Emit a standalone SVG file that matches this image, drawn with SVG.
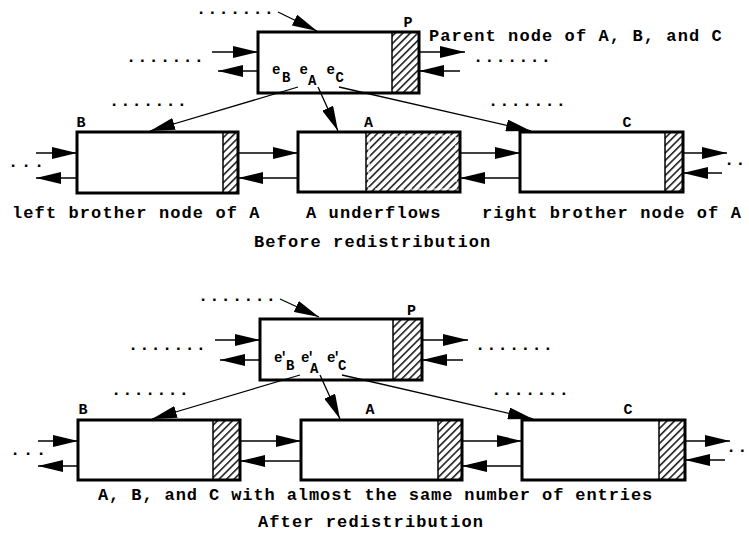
<svg xmlns="http://www.w3.org/2000/svg" width="749" height="533" viewBox="0 0 749 533">
<defs>
<style>
.box{fill:none;stroke:#000;stroke-width:3}
.bg{fill:#fff}
.h{fill:url(#hatch)}
.div{stroke:#000;stroke-width:1.5}
.c{stroke:#000;stroke-width:1.3;fill:none;marker-end:url(#ah)}
.t{font-family:"Liberation Mono","Courier New",monospace;font-weight:bold;font-size:17px;letter-spacing:1.1px;fill:#000}
.l{font-family:"Liberation Mono","Courier New",monospace;font-weight:bold;font-size:15px;fill:#000}
.e{font-family:"Liberation Mono","Courier New",monospace;font-weight:bold;font-size:14px;fill:#000}
.pr{letter-spacing:-3px}
.wd{fill:none;stroke:#fff;stroke-width:1.2;stroke-dasharray:5 3}
</style>
<pattern id="hatch" patternUnits="userSpaceOnUse" width="5.3" height="10" patternTransform="rotate(45)">
<rect width="5.3" height="10" fill="#fff"/>
<line x1="0.8" y1="0" x2="0.8" y2="10" stroke="#000" stroke-width="1.4"/>
</pattern>
<marker id="ah" markerUnits="userSpaceOnUse" markerWidth="25" markerHeight="12" refX="25" refY="6" orient="auto">
<path d="M0,0 L25,6 L0,12 z" fill="#000"/>
</marker>
</defs>
<rect width="749" height="533" fill="#fff"/>

<g id="node-P-before">
<rect class="bg" x="258" y="32" width="161" height="61"/>
<rect class="h" x="392" y="32" width="27" height="61"/>
<line class="div" x1="392" y1="32" x2="392" y2="93"/>
<rect class="box" x="258" y="32" width="161" height="61"/>
<text class="l" x="408" y="27" text-anchor="middle">P</text>
<text class="e"><tspan x="272" y="74">e</tspan><tspan x="282" y="82">B</tspan><tspan x="299.5" y="74">e</tspan><tspan x="308" y="85">A</tspan><tspan x="326.5" y="74">e</tspan><tspan x="335.5" y="82">C</tspan></text>
</g>

<g id="node-B-before">
<rect class="bg" x="77" y="132" width="161" height="61"/>
<rect class="h" x="223" y="132" width="15" height="61"/>
<line class="div" x1="223" y1="132" x2="223" y2="193"/>
<rect class="box" x="77" y="132" width="161" height="61"/>
<text class="l" x="81" y="127" text-anchor="middle">B</text>
</g>

<g id="node-A-before">
<rect class="bg" x="298" y="132" width="162" height="60"/>
<rect class="h" x="366" y="132" width="94" height="60"/>
<rect class="wd" x="369" y="136" width="87" height="53"/>
<line class="div" x1="366" y1="132" x2="366" y2="192"/>
<rect class="box" x="298" y="132" width="162" height="60"/>
<text class="l" x="368.5" y="127" text-anchor="middle">A</text>
</g>

<g id="node-C-before">
<rect class="bg" x="520" y="132" width="163" height="60"/>
<rect class="h" x="665" y="132" width="18" height="60"/>
<line class="div" x1="665" y1="132" x2="665" y2="192"/>
<rect class="box" x="520" y="132" width="163" height="60"/>
<text class="l" x="627" y="127" text-anchor="middle">C</text>
</g>

<g id="node-P-after">
<rect class="bg" x="260" y="319" width="162" height="61"/>
<rect class="h" x="393" y="319" width="29" height="61"/>
<line class="div" x1="393" y1="319" x2="393" y2="380"/>
<rect class="box" x="260" y="319" width="162" height="61"/>
<text class="l" x="411.5" y="315" text-anchor="middle">P</text>
<text class="e"><tspan class="pr" x="274" y="362">e′</tspan><tspan x="286" y="370">B</tspan><tspan class="pr" x="301" y="362">e′</tspan><tspan x="310" y="373">A</tspan><tspan class="pr" x="327" y="362">e′</tspan><tspan x="338" y="370">C</tspan></text>
</g>

<g id="node-B-after">
<rect class="bg" x="78" y="420" width="162" height="60"/>
<rect class="h" x="213" y="420" width="27" height="60"/>
<line class="div" x1="213" y1="420" x2="213" y2="480"/>
<rect class="box" x="78" y="420" width="162" height="60"/>
<text class="l" x="83" y="414" text-anchor="middle">B</text>
</g>

<g id="node-A-after">
<rect class="bg" x="301" y="420" width="161" height="60"/>
<rect class="h" x="438" y="420" width="24" height="60"/>
<line class="div" x1="438" y1="420" x2="438" y2="480"/>
<rect class="box" x="301" y="420" width="161" height="60"/>
<text class="l" x="370" y="414" text-anchor="middle">A</text>
</g>

<g id="node-C-after">
<rect class="bg" x="522" y="420" width="163" height="60"/>
<rect class="h" x="659" y="420" width="26" height="60"/>
<line class="div" x1="659" y1="420" x2="659" y2="480"/>
<rect class="box" x="522" y="420" width="163" height="60"/>
<text class="l" x="628" y="414" text-anchor="middle">C</text>
</g>

<g id="connectors">
<line class="c" x1="278" y1="12" x2="317" y2="31"/>
<line class="c" x1="212" y1="52" x2="258" y2="52"/>
<line class="c" x1="258" y1="71" x2="218" y2="71"/>
<line class="c" x1="419" y1="52" x2="465" y2="52"/>
<line class="c" x1="460" y1="71" x2="419" y2="71"/>
<line class="c" x1="298" y1="87" x2="150" y2="131"/>
<line class="c" x1="318" y1="87" x2="338" y2="131"/>
<line class="c" x1="339" y1="87" x2="531" y2="131"/>
<line class="c" x1="238" y1="153" x2="298" y2="153"/>
<line class="c" x1="298" y1="178" x2="238" y2="178"/>
<line class="c" x1="36" y1="153" x2="77" y2="153"/>
<line class="c" x1="77" y1="178" x2="36" y2="178"/>
<line class="c" x1="460" y1="153" x2="520" y2="153"/>
<line class="c" x1="520" y1="178" x2="460" y2="178"/>
<line class="c" x1="683" y1="153" x2="727" y2="153"/>
<line class="c" x1="722" y1="173" x2="683" y2="173"/>

<line class="c" x1="280" y1="299" x2="319" y2="317"/>
<line class="c" x1="215" y1="340" x2="260" y2="340"/>
<line class="c" x1="260" y1="360" x2="220" y2="360"/>
<line class="c" x1="422" y1="340" x2="468" y2="340"/>
<line class="c" x1="463" y1="360" x2="422" y2="360"/>
<line class="c" x1="300" y1="375" x2="152" y2="419"/>
<line class="c" x1="320" y1="375" x2="340" y2="419"/>
<line class="c" x1="342" y1="375" x2="533" y2="419"/>
<line class="c" x1="240" y1="441" x2="301" y2="441"/>
<line class="c" x1="301" y1="461" x2="240" y2="461"/>
<line class="c" x1="38" y1="441" x2="78" y2="441"/>
<line class="c" x1="78" y1="466" x2="38" y2="466"/>
<line class="c" x1="462" y1="441" x2="522" y2="441"/>
<line class="c" x1="522" y1="466" x2="462" y2="466"/>
<line class="c" x1="685" y1="441" x2="730" y2="441"/>
<line class="c" x1="725" y1="460" x2="685" y2="460"/>
</g>

<g id="labels">
<text class="t" x="196" y="14">.......</text>
<text class="t" x="126" y="62">.......</text>
<text class="t" x="473" y="62">.......</text>
<text class="t" x="109" y="106">.......</text>
<text class="t" x="488" y="106">.......</text>
<text class="t" x="8" y="167" style="letter-spacing:2.8px">...</text>
<text class="t" x="724" y="165" style="letter-spacing:1px">..</text>
<text class="t" x="429" y="41">Parent node of A, B, and C</text>
<text class="t" x="12" y="218">left brother node of A</text>
<text class="t" x="306" y="218">A underflows</text>
<text class="t" x="482" y="218">right brother node of A</text>
<text class="t" x="254" y="247">Before redistribution</text>

<text class="t" x="198" y="301">.......</text>
<text class="t" x="128" y="350">.......</text>
<text class="t" x="475" y="350">.......</text>
<text class="t" x="111" y="395">.......</text>
<text class="t" x="491" y="395">.......</text>
<text class="t" x="10" y="455" style="letter-spacing:2.8px">...</text>
<text class="t" x="726" y="452" style="letter-spacing:1px">..</text>
<text class="t" x="98" y="500" style="letter-spacing:0.9px">A, B, and C with almost the same number of entries</text>
<text class="t" x="258" y="527">After redistribution</text>
</g>
</svg>
